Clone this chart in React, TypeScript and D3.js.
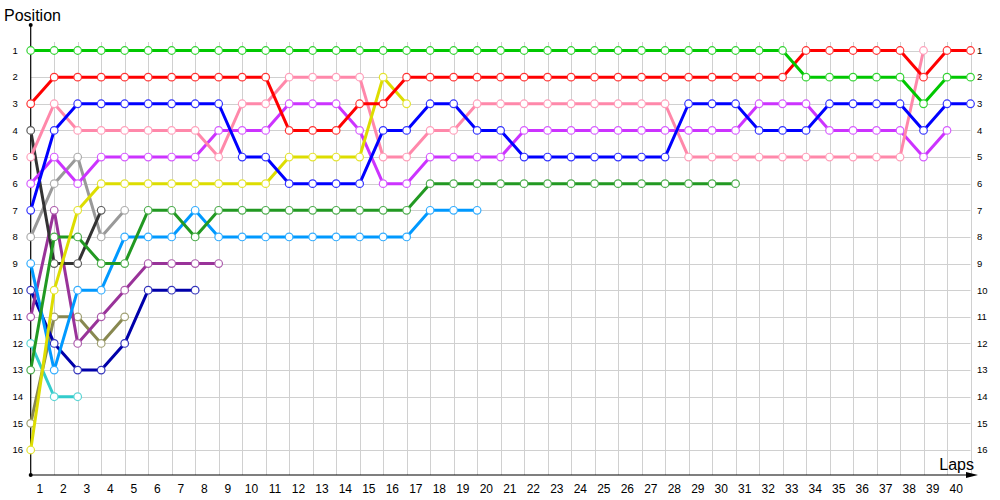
import React from "react";
import * as d3 from "d3";

const lapTicks = d3.range(1, 41);
const positionTicks = d3.range(1, 17);

// Positions per lap, starting at lap 0 (grid)
const green = [1,1,1,1,1,1,1,1,1,1, 1,1,1,1,1,1,1,1,1,1, 1,1,1,1,1,1,1,1,1,1, 1,1,1, 2,2,2,2,2, 3,2,2];
const red = [3, 2,2,2,2,2,2,2,2,2,2, 4,4,4, 3,3, 2,2,2,2,2,2,2,2,2,2,2,2,2,2,2,2,2, 1,1,1,1,1, 2, 1,1];
const blue = [7, 4, 3,3,3,3,3,3,3, 5,5, 6,6,6,6, 4,4, 3,3, 4,4, 5,5,5,5,5,5,5, 3,3,3, 4,4,4, 3,3,3,3, 4, 3,3];
const pink = [5, 3, 4,4,4,4,4,4, 5, 3,3, 2,2,2,2, 5,5, 4,4, 3,3,3,3,3,3,3,3,3, 5,5,5,5,5,5,5,5,5,5, 1];
const purple = [6, 5, 6, 5,5,5,5,5, 4,4,4, 3,3,3, 4, 6,6, 5,5,5,5, 4,4,4,4,4,4,4,4,4,4, 3,3,3, 4,4,4,4, 5, 4];
const yellow = [16, 10, 7, 6,6,6,6,6,6,6,6, 5,5,5,5, 2, 3];
const darkGreen = [13, 8,8, 9,9, 7,7, 8, 7,7,7,7,7,7,7,7,7, 6,6,6,6,6,6,6,6,6,6,6,6,6,6];
const lightBlue = [9, 13, 10,10, 8,8,8, 7, 8,8,8,8,8,8,8,8,8, 7,7,7];
const darkMagenta = [11, 7, 12, 11, 10, 9,9,9,9];
const navy = [10, 12, 13, 13, 12, 10, 10, 10];
const darkGray = [4, 9, 9, 7];
const gray = [8, 6, 5, 8, 7];
const olive = [15, 11, 11, 12, 11];
const turquoise = [12, 14, 14];

const series = [
  { name: "turquoise", color: "#33cccc", values: turquoise },
  { name: "olive", color: "#888850", values: olive },
  { name: "gray", color: "#999999", values: gray },
  { name: "navy", color: "#0000aa", values: navy },
  { name: "darkMagenta", color: "#993399", values: darkMagenta },
  { name: "darkGray", color: "#333333", values: darkGray },
  { name: "lightBlue", color: "#0099ff", values: lightBlue },
  { name: "darkGreen", color: "#229922", values: darkGreen },
  { name: "purple", color: "#cc33ff", values: purple },
  { name: "pink", color: "#ff88aa", values: pink },
  { name: "yellow", color: "#dddd00", values: yellow },
  { name: "blue", color: "#0000ff", values: blue },
  { name: "red", color: "#ff0000", values: red },
  { name: "green", color: "#00c800", values: green },
];

export default function App() {
  const x = d3.scaleLinear().domain([0, 40]).range([30.7, 970.5]);
  const y = d3.scaleLinear().domain([1, 16]).range([50.5, 450]);
  const line = d3.line<number>().x((_, i) => x(i)).y((d) => y(d));
  const axisY = 475;
  const gridTop = 42;
  const font = "'Liberation Sans', Arial, sans-serif";

  return (
    <svg width={1000} height={500} style={{ position: "absolute", left: 0, top: 0, background: "#fff" }} fontFamily={font}>
      <rect x={0} y={0} width={1000} height={500} fill="#fff" />
      {/* grid */}
      <g stroke="#d0d0d0" strokeWidth={1}>
        {lapTicks.map((l) => (
          <line key={"v" + l} x1={Math.round(x(l)) + 0.5} x2={Math.round(x(l)) + 0.5} y1={gridTop} y2={axisY} />
        ))}
        {positionTicks.map((p) => (
          <line key={"h" + p} x1={x(0)} x2={x(40)} y1={Math.round(y(p)) + 0.5} y2={Math.round(y(p)) + 0.5} />
        ))}
      </g>
      {/* axes */}
      <g stroke="#000" strokeWidth={1.2}>
        <line x1={x(0)} x2={x(0)} y1={25} y2={axisY} />
        <line x1={x(0)} x2={972} y1={axisY} y2={axisY} />
      </g>
      <circle cx={x(0)} cy={25} r={2} fill="#000" />
      <circle cx={x(0)} cy={axisY} r={2} fill="#000" />
      <path d={`M966,${axisY - 3} L978,${axisY} L966,${axisY + 3} Z`} fill="#000" />
      {/* axis labels */}
      <text x={4} y={21} fontSize={16} fill="#000">Position</text>
      <text x={974} y={470} fontSize={16} fill="#000" textAnchor="end">Laps</text>
      {/* ticks */}
      {lapTicks.map((l) => (
        <text key={"xl" + l} x={x(l - 0.5) - 2.5} y={493} fontSize={12} textAnchor="middle" fill="#000">
          {l}
        </text>
      ))}
      {positionTicks.map((p) => (
        <g key={"yl" + p}>
          <text x={12.5} y={y(p)} dy="0.35em" fontSize={9.5} fill="#000">{p}</text>
          <text x={977} y={y(p)} dy="0.35em" fontSize={9.5} fill="#000">{p}</text>
        </g>
      ))}
      {/* series */}
      {series.map((s) => {
        const markerStroke = d3.interpolateRgb(s.color, "#ffffff")(0.2);
        return (
          <g key={s.name}>
            <path d={line(s.values) || ""} fill="none" stroke={s.color} strokeWidth={3} strokeLinejoin="round" />
            {s.values.map((v, i) => (
              <circle key={i} cx={x(i)} cy={y(v)} r={3.8} fill="#fff" stroke={markerStroke} strokeWidth={1.2} />
            ))}
          </g>
        );
      })}
    </svg>
  );
}
